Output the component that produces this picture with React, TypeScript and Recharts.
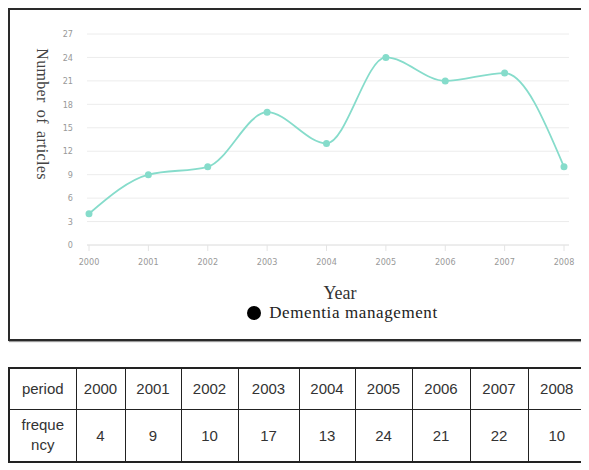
import React from "react";
import { LineChart, Line, XAxis, YAxis, CartesianGrid, Legend, Label } from "recharts";

const years = ["2000", "2001", "2002", "2003", "2004", "2005", "2006", "2007", "2008"];
const articles = [4, 9, 10, 17, 13, 24, 21, 22, 10];
const yTicks = [0, 3, 6, 9, 12, 15, 18, 21, 24, 27];
const seriesName = "Dementia management";
const rowLabels = ["period", "frequency"];

const data = years.map((y, i) => ({ year: y, value: articles[i] }));

const LINE = "#86dccb";
const colWidths = [67, 49, 56, 57, 61, 56, 57, 58, 58, 58];

const LegendContent = () => (
  <div
    style={{
      height: 20,
      display: "flex",
      alignItems: "center",
      justifyContent: "center",
      fontFamily: "'Liberation Serif', serif",
      fontSize: 17,
      color: "#222",
      letterSpacing: 0.6,
    }}
  >
    <span
      style={{
        width: 14,
        height: 14,
        borderRadius: 7,
        background: "#000",
        display: "inline-block",
        marginRight: 8,
      }}
    />
    {seriesName}
  </div>
);

const YTitle = (props: any) => {
  const vb = props.viewBox || { x: 0, y: 0, width: 0, height: 0 };
  const cx = vb.x - 15;
  const cy = vb.y + 80;
  return (
    <text
      x={cx}
      y={cy}
      transform={`rotate(90 ${cx} ${cy})`}
      textAnchor="middle"
      dominantBaseline="central"
      fontFamily="'Liberation Serif', serif"
      fontSize={16}
      fill="#444"
      letterSpacing={0.3}
      wordSpacing={3}
    >
      Number of articles
    </text>
  );
};

const cellBase: React.CSSProperties = {
  border: "1px solid #222",
  textAlign: "center",
  padding: 0,
  color: "#333",
};

export default function App() {
  return (
    <div>
      <div
        style={{
          width: 577,
          height: 333,
          boxSizing: "border-box",
          border: "2px solid #2a2a2a",
          boxShadow: "1px 1px 1px #999",
          background: "#fff",
        }}
      >
        <LineChart
          width={573}
          height={329}
          data={data}
          margin={{ top: 24, right: 14, left: 47, bottom: 16 }}
        >
          <CartesianGrid vertical={false} stroke="#ececec" />
          <XAxis
            dataKey="year"
            height={58}
            padding={{ left: 2, right: 5 }}
            axisLine={{ stroke: "#e4e4e4" }}
            tickLine={{ stroke: "#e4e4e4" }}
            tickSize={6}
            tickMargin={8}
            tick={{ fontSize: 9, fill: "#999", fontFamily: "'DejaVu Sans Condensed', sans-serif" }}
            interval={0}
          >
            <Label
              value="Year"
              position="insideBottom"
              offset={4}
              dx={12}
              style={{ fontFamily: "'Liberation Serif', serif", fontSize: 18, fill: "#333" }}
            />
          </XAxis>
          <YAxis
            width={30}
            domain={[0, 27]}
            ticks={yTicks}
            interval={0}
            axisLine={false}
            tickLine={false}
            tickMargin={8}
            tick={{ fontSize: 9, fill: "#999", fontFamily: "'DejaVu Sans Condensed', sans-serif" }}
          >
            <Label content={<YTitle />} />
          </YAxis>
          <Legend
            verticalAlign="bottom"
            content={<LegendContent />}
            wrapperStyle={{ top: 293, left: 46, width: 573 }}
          />
          <Line
            type="monotone"
            dataKey="value"
            name={seriesName}
            stroke={LINE}
            strokeWidth={1.8}
            dot={{ r: 2.6, fill: LINE, stroke: LINE }}
            isAnimationActive={false}
          />
        </LineChart>
      </div>
      <table
        style={{
          marginTop: 26,
          borderCollapse: "collapse",
          width: 577,
          border: "2px solid #222",
          fontFamily: "'Liberation Sans', Arial, sans-serif",
          fontSize: 15,
          tableLayout: "fixed",
        }}
      >
        <colgroup>
          {colWidths.map((w, i) => (
            <col key={i} style={{ width: w }} />
          ))}
        </colgroup>
        <tbody>
          <tr style={{ height: 41 }}>
            <td style={cellBase}>{rowLabels[0]}</td>
            {years.map((y) => (
              <td key={y} style={cellBase}>
                {y}
              </td>
            ))}
          </tr>
          <tr style={{ height: 53 }}>
            <td style={{ ...cellBase, padding: "0 10px", wordBreak: "break-all", lineHeight: "20px" }}>
              {rowLabels[1]}
            </td>
            {articles.map((v, i) => (
              <td key={i} style={cellBase}>
                {v}
              </td>
            ))}
          </tr>
        </tbody>
      </table>
    </div>
  );
}
